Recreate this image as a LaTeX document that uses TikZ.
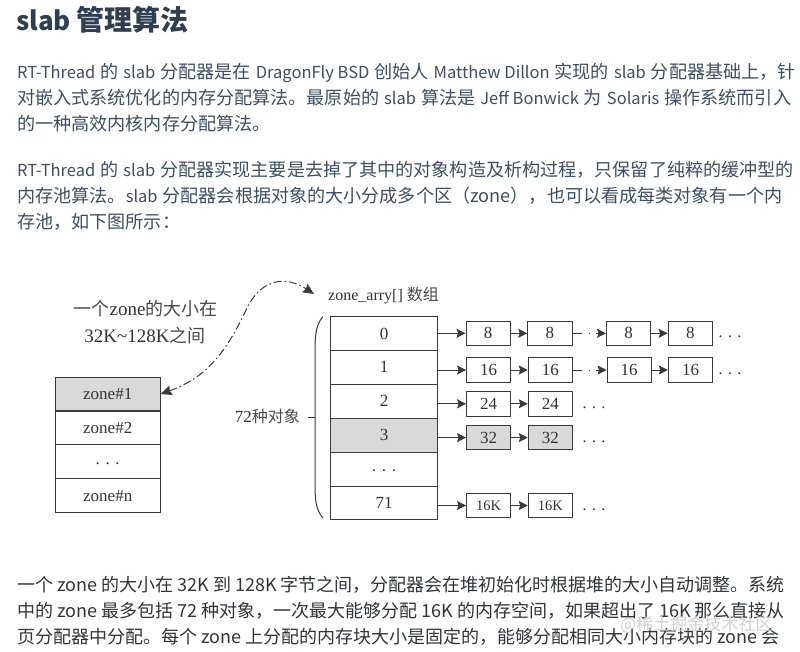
\documentclass[tikz,border=0pt]{standalone}
\usepackage{fontspec}
\usetikzlibrary{arrows.meta}
\setmainfont{Noto Sans CJK SC}
\newfontfamily\dgserif{Liberation Serif}
\newfontfamily\dgcjk{Noto Sans CJK SC}
\newcommand{\latr}[1]{{\fontsize{16.5}{20}\selectfont #1}\hspace{5pt}}
\newcommand{\latm}[1]{\hspace{5pt}{\fontsize{16.5}{20}\selectfont #1}\hspace{5pt}}
\newcommand{\raiseddots}{\raisebox{-5.5pt}{. . .}}
\definecolor{bodyc}{HTML}{3E4F63}
\definecolor{titlec}{HTML}{2F3F52}
\definecolor{darkc}{HTML}{30353A}
\definecolor{inkc}{HTML}{333333}
\definecolor{cjkc}{HTML}{4A4A4A}
\definecolor{linec}{HTML}{3A3A3A}
\definecolor{shade}{HTML}{D9D9D9}
\tikzset{
  bodyline/.style={anchor=base west,inner sep=0pt,text=bodyc,font=\fontsize{18.1}{20}\selectfont},
  lastline/.style={anchor=base west,inner sep=0pt,text=darkc,font=\fontsize{18}{20}\selectfont},
  cell/.style={draw=linec,line width=1pt,inner sep=0pt,text=inkc,font=\dgserif\fontsize{17}{19}\selectfont},
  zonebox/.style={cell,minimum width=105pt,minimum height=34pt},
  arrbox/.style={cell,minimum width=106.5pt,minimum height=33.8pt},
  smallbox/.style={cell,minimum width=44.3pt,minimum height=24.6pt},
  filled/.style={fill=shade},
  dgtext/.style={inner sep=0pt,text=inkc,font=\dgserif\fontsize{19}{24}\selectfont},
  dots/.style={inner sep=0pt,text=inkc,font=\dgserif\fontsize{16}{19}\selectfont},
  link/.style={line width=1pt,draw=linec,-{Stealth[length=9pt,width=9pt,inset=1.5pt]}},
  gaplink/.style={link,dash pattern=on 9pt off 7pt on 1pt off 6pt on 20pt off 0pt},
}
\begin{document}
\begin{tikzpicture}[x=1pt,y=-1pt]
\useasboundingbox (0,0) rectangle (800,651);
\fill[white] (0,0) rectangle (800,651);
% page text
\node[anchor=base west,inner sep=0pt,text=titlec,font=\fontsize{28}{30}\selectfont\bfseries] (title) at (16,30) {{\fontsize{26}{30}\selectfont slab}\hspace{6pt}管理算法};
\node[bodyline] (p1) at (17,78.5) {\latr{RT-Thread}的\latm{slab}分配器是在\latm{DragonFly BSD}创始人\latm{Matthew Dillon}实现的\latm{slab}分配器基础上，针};
\node[bodyline] (p2) at (17,104.5) {对嵌入式系统优化的内存分配算法。最原始的\latm{slab}算法是\latm{Jeff Bonwick}为\latm{Solaris}操作系统而引入};
\node[bodyline] (p3) at (17,130.5) {的一种高效内核内存分配算法。};
\node[bodyline] (p4) at (17,176.5) {\latr{RT-Thread}的\latm{slab}分配器实现主要是去掉了其中的对象构造及析构过程，只保留了纯粹的缓冲型的};
\node[bodyline] (p5) at (17,202.5) {内存池算法。\latr{slab}分配器会根据对象的大小分成多个区（zone），也可以看成每类对象有一个内};
\node[bodyline] (p6) at (17,228.5) {存池，如下图所示：};
\node[lastline] (q1) at (17,591) {一个 zone 的大小在 32K 到 128K 字节之间，分配器会在堆初始化时根据堆的大小自动调整。系统};
\node[lastline] (q2) at (17,617) {中的 zone 最多包括 72 种对象，一次最大能够分配 16K 的内存空间，如果超出了 16K 那么直接从};
\node[lastline] (q3) at (17,643) {页分配器中分配。每个 zone 上分配的内存块大小是固定的，能够分配相同大小内存块的 zone 会};
\node[anchor=base west,inner sep=0pt,text=black!18,font=\fontsize{17}{19}\selectfont] (wm) at (620,630) {@稀土掘金技术社区};
% left stack
\node[zonebox,filled] (z1) at (107.7,394) {zone\#1};
\node[zonebox] (z2) at (107.7,427.7) {zone\#2};
\node[zonebox] (z3) at (107.7,461.7) {\raiseddots};
\node[zonebox] (z4) at (107.7,495.7) {zone\#n};
\node[dgtext] (note1) at (145.5,309) {{\dgcjk\color{cjkc}\fontsize{18}{24}\selectfont 一个}zone{\dgcjk\color{cjkc}\fontsize{18}{24}\selectfont 的大小在}};
\node[dgtext] (note2) at (145,336) {32K\textasciitilde 128K{\dgcjk\color{cjkc}\fontsize{18}{24}\selectfont 之间}};
% array
\node[dgtext,anchor=west,font=\dgserif\fontsize{16}{18}\selectfont] (title2) at (328,295) {zone\_arry[] {\dgcjk\color{cjkc} 数组}};
\node[arrbox] (a0) at (384,333.5) {0};
\node[arrbox] (a1) at (384,367.3) {1};
\node[arrbox] (a2) at (384,401.3) {2};
\node[arrbox,filled] (a3) at (384,435.3) {3};
\node[arrbox] (a4) at (384,469.2) {\raiseddots};
\node[arrbox] (a5) at (384,503) {71};
% brace
\node[dgtext,anchor=east,font=\dgserif\fontsize{17}{18}\selectfont] (objs) at (300,416) {72{\dgcjk\color{cjkc}\fontsize{16}{18}\selectfont 种对象}};
\coordinate (brT) at (322.7,316.7);
\coordinate (brB) at (323,518);
\coordinate (brM) at (315,417);
\coordinate (brL) at (308,417);
\draw[line width=1pt,draw=linec] (brT) .. controls (316,325) and (315,335) .. (315,350) -- (315,485) .. controls (315,500) and (316,510) .. (brB);
\draw[line width=1pt,draw=linec] (brL) -- (brM);
% row 0
\node[smallbox] (b00) at (488.2,333.3) {8};
\node[smallbox] (b01) at (549.9,333.3) {8};
\node[smallbox] (b02) at (628.7,333.3) {8};
\node[smallbox] (b03) at (690.3,333.3) {8};
\node[dots] (d0) at (730,337) {. . .};
\draw[link] (a0.east |- b00.west) -- (b00.west);
\draw[link] (b00) -- (b01);
\draw[gaplink] (b01) -- (b02);
\draw[link] (b02) -- (b03);
% row 1
\node[smallbox] (b10) at (488.7,370) {16};
\node[smallbox] (b11) at (550.4,370) {16};
\node[smallbox] (b12) at (629.2,370) {16};
\node[smallbox] (b13) at (690.5,370) {16};
\node[dots] (d1) at (730,373.5) {. . .};
\draw[link] (a1.east |- b10.west) -- (b10.west);
\draw[link] (b10) -- (b11);
\draw[gaplink] (b11) -- (b12);
\draw[link] (b12) -- (b13);
% row 2
\node[smallbox] (b20) at (488.7,403.8) {24};
\node[smallbox] (b21) at (550.4,403.8) {24};
\node[dots] (d2) at (594,408) {. . .};
\draw[link] (a2.east |- b20.west) -- (b20.west);
\draw[link] (b20) -- (b21);
% row 3
\node[smallbox,filled] (b30) at (488.7,437.6) {32};
\node[smallbox,filled] (b31) at (550.4,437.6) {32};
\node[dots] (d3) at (594,442) {. . .};
\draw[link] (a3.east |- b30.west) -- (b30.west);
\draw[link] (b30) -- (b31);
% row 71
\node[smallbox,font=\dgserif\fontsize{14.5}{17}\selectfont] (b50) at (488.7,505.5) {16K};
\node[smallbox,font=\dgserif\fontsize{14.5}{17}\selectfont] (b51) at (550.4,505.5) {16K};
\node[dots] (d5) at (594,509.5) {. . .};
\draw[link] (a5.east |- b50.west) -- (b50.west);
\draw[link] (b50) -- (b51);
% curved double arrow
\coordinate (crvEnd) at (314,294);
\draw[line width=1pt,draw=linec,dash pattern=on 8pt off 3pt on 1.5pt off 3pt,{Stealth[length=11pt,width=10pt,inset=1.5pt]}-{Stealth[length=11pt,width=10pt,inset=1.5pt]}]
  (z1.east) .. controls (205,378) and (225,355) .. (247,308) .. controls (258,285) and (280,272) .. (crvEnd);
\end{tikzpicture}
\end{document}
